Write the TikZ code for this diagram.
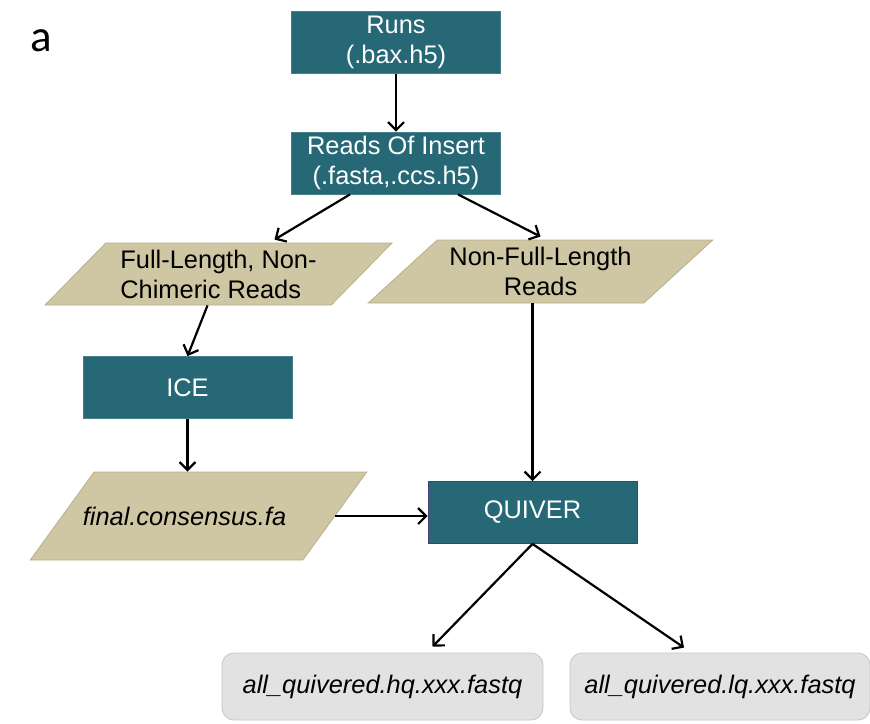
\documentclass[tikz,border=0pt]{standalone}
\usepackage{fontspec}
\setmainfont{Liberation Sans}
\newfontfamily\panelfont{Carlito}
\usetikzlibrary{arrows,arrows.meta,shapes.geometric}
\definecolor{tealcolor}{RGB}{38,104,118}
\definecolor{tancolor}{RGB}{207,198,163}
\definecolor{tanedge}{RGB}{184,175,140}
\definecolor{filecolor}{RGB}{226,226,226}
\definecolor{fileedge}{RGB}{198,198,198}

\begin{document}
\begin{tikzpicture}[x=0.5pt,y=-0.5pt,
  every node/.style={font=\fontsize{12.7}{15}\selectfont},
  proc/.style={rectangle,fill=tealcolor,draw=tealcolor!85!white,text=white,
    inner sep=0pt,minimum width=104.5pt,minimum height=31pt,align=center},
  reads/.style={trapezium,trapezium stretches=true,fill=tancolor,draw=tanedge,
    inner xsep=0pt,inner ysep=2pt,align=center},
  outfile/.style={rectangle,rounded corners=6pt,fill=filecolor,draw=fileedge,
    inner sep=0pt,minimum height=33.5pt},
  flow/.style={-{Straight Barb[length=4pt,width=8pt]},line width=1.1pt}]
  \useasboundingbox (0,0) rectangle (870,723);
  \node[font=\panelfont\fontsize{22.5}{24}\selectfont] (panel) at (41.5,41) {a};
  % processing steps
  \node[proc] (runs) at (396,42.5) {Runs\\(.bax.h5)};
  \node[proc] (roi) at (396,163) {Reads Of Insert\\(.fasta,.ccs.h5)};
  \node[proc] (ice) at (187.5,387.5) {ICE};
  \node[proc,draw=violet!45!tealcolor] (quiver) at (532.5,512.5) {QUIVER};
  % read sets
  \node[reads,align=left,trapezium left angle=47,trapezium right angle=133,
    minimum width=173.5pt,minimum height=31pt] (flnc) at (218.5,274)
    {Full-Length, Non-\\Chimeric Reads};
  \node[reads,trapezium left angle=43,trapezium right angle=137,
    minimum width=172.5pt,minimum height=31.5pt] (nfl) at (540.5,271.5)
    {Non-Full-Length\\Reads};
  \node[reads,inner ysep=16pt,trapezium left angle=57,trapezium right angle=123,
    minimum width=168.5pt,minimum height=44pt] (cons) at (198.5,516)
    {\itshape\hspace*{-14pt}final.consensus.fa};
  % output files
  \node[outfile,minimum width=160.5pt] (hq) at (382.5,686.5)
    {\itshape all\_quivered.hq.xxx.fastq};
  \node[outfile,minimum width=150pt] (lq) at (720,686.5)
    {\itshape all\_quivered.lq.xxx.fastq};
  % arrows
  \draw[flow] (runs) -- (roi);
  \draw[flow] ([xshift=-23pt]roi.south) -- ([xshift=28pt,yshift=1.5pt]flnc.north);
  \draw[flow] ([xshift=31pt]roi.south) -- ([yshift=1.5pt]nfl.north);
  \draw[flow] ([xshift=-5.5pt]flnc.south) -- (ice.north);
  \draw[flow] (ice.south) -- (ice.south |- cons.north);
  \draw[flow] (cons.east) -- (cons.east -| quiver.west);
  \draw[flow] (quiver.north |- nfl.south) -- (quiver.north);
  \draw[flow] (quiver.south) -- ([xshift=25pt,yshift=3pt]hq.north);
  \draw[flow] (quiver.south) -- ([xshift=-18pt,yshift=2.5pt]lq.north);
\end{tikzpicture}
\end{document}
